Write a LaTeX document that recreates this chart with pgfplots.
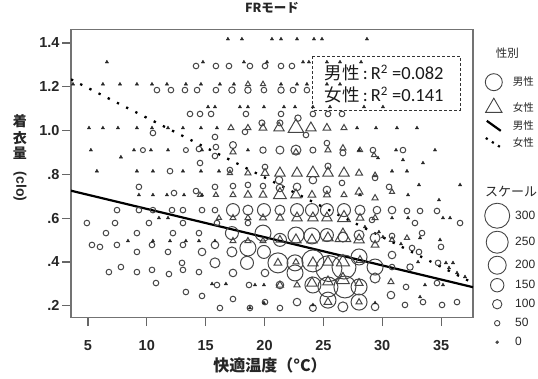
\documentclass[border=0pt]{standalone}
\usepackage{pgfplots}
\usepackage{pgfplotstable}
\pgfplotsset{compat=1.18}
\usepackage{fontspec}
\setmainfont{Liberation Sans}
\newfontfamily\jp{Noto Sans CJK JP}
\newfontfamily\carlito{Carlito}
\definecolor{mk}{gray}{0.27}

\pgfplotstableread{
x y r
14.18 1.295 2.8
15.87 1.295 2.8
16.98 1.295 2.8
18.76 1.295 2.8
20.04 1.295 2.8
21.40 1.295 2.8
22.33 1.295 2.8
10.86 1.185 2.8
12.05 1.185 2.8
13.24 1.185 2.8
14.27 1.185 2.8
15.87 1.185 2.8
17.23 1.185 3.2
18.59 1.185 3.2
19.95 1.185 2.8
21.40 1.185 3.2
22.42 1.185 2.8
23.60 1.185 2.8
13.67 1.076 2.8
14.52 1.076 2.8
15.46 1.076 2.8
18.42 1.076 2.8
21.40 1.076 2.8
24.11 1.076 2.8
25.39 1.076 2.8
26.58 1.076 2.8
22.84 1.057 3.2
10.52 0.989 2.8
15.79 0.971 2.8
18.34 0.994 2.8
19.78 1.035 3.0
21.31 1.035 3.0
23.52 0.980 2.8
9.67 0.911 2.5
13.32 0.911 2.5
14.43 0.916 2.8
15.87 0.925 2.8
17.32 0.934 3.5
19.87 0.911 3.2
21.31 0.911 4.0
22.67 0.911 5.0
24.11 0.911 3.0
26.66 0.898 3.0
29.21 0.911 2.8
31.76 0.911 2.8
15.79 0.884 2.8
14.52 0.852 2.8
25.30 0.943 2.8
11.97 0.815 2.8
17.06 0.820 2.8
21.23 0.774 3.8
24.11 0.774 3.8
25.39 0.838 3.0
20.04 0.834 2.8
29.39 0.784 2.8
9.33 0.743 2.8
12.31 0.715 2.8
14.18 0.724 2.8
15.79 0.743 2.8
17.32 0.747 2.8
18.59 0.752 2.8
19.87 0.747 2.8
21.31 0.738 3.8
22.76 0.743 3.8
25.30 0.729 3.8
26.58 0.761 2.8
30.58 0.743 2.8
7.47 0.637 2.8
9.33 0.637 2.8
10.52 0.637 2.8
12.14 0.637 2.8
13.07 0.637 2.8
14.69 0.637 2.8
15.79 0.637 2.8
17.32 0.637 6.5
18.59 0.637 5.0
19.95 0.637 6.5
21.31 0.637 5.0
22.76 0.637 6.5
24.03 0.637 6.5
25.30 0.637 6.5
26.75 0.637 6.5
28.11 0.637 5.0
29.55 0.637 3.8
30.83 0.637 3.8
32.10 0.633 2.8
33.21 0.633 2.8
34.65 0.633 2.8
36.61 0.578 2.8
32.78 0.578 2.8
29.13 0.592 2.8
4.91 0.578 2.8
7.30 0.578 2.8
10.18 0.578 2.8
13.07 0.578 2.8
15.96 0.578 2.8
18.59 0.578 2.8
6.53 0.532 2.8
9.16 0.532 2.8
12.22 0.532 2.8
14.43 0.532 2.8
17.23 0.532 6.5
19.87 0.532 8.0
21.31 0.501 6.5
22.67 0.523 8.0
24.03 0.519 8.0
25.30 0.523 6.5
26.66 0.514 5.0
28.03 0.523 5.0
29.39 0.510 5.0
30.83 0.519 2.8
33.38 0.532 2.8
34.99 0.469 2.8
32.53 0.464 2.8
5.34 0.478 2.8
6.02 0.469 2.8
7.46 0.478 2.8
10.44 0.478 2.8
13.07 0.478 2.8
15.79 0.478 3.8
18.59 0.464 8.0
9.16 0.446 2.8
11.80 0.446 2.8
14.69 0.446 3.8
17.23 0.446 5.0
19.95 0.446 6.5
30.83 0.432 3.8
33.12 0.446 2.8
12.99 0.396 2.8
15.79 0.396 5.0
18.51 0.396 6.5
21.14 0.396 10.0
22.59 0.396 8.0
24.11 0.405 11.0
25.47 0.370 13.0
26.75 0.377 12.0
28.03 0.423 8.0
29.39 0.377 8.0
30.83 0.377 2.8
32.36 0.377 3.2
34.74 0.396 2.8
6.78 0.354 2.8
7.80 0.377 2.8
9.16 0.354 2.8
10.44 0.364 2.8
11.88 0.345 2.8
13.07 0.364 2.8
14.43 0.354 2.8
17.32 0.350 3.8
20.04 0.350 3.8
22.59 0.350 8.0
10.78 0.304 2.8
15.96 0.295 2.8
18.68 0.295 2.8
21.31 0.295 3.8
24.11 0.295 8.0
25.39 0.286 10.0
26.83 0.286 11.0
28.03 0.286 8.0
29.39 0.327 5.0
32.02 0.286 2.8
34.65 0.304 2.8
13.32 0.263 2.8
14.69 0.245 2.8
17.32 0.231 2.8
20.04 0.217 2.8
22.76 0.217 3.8
25.39 0.226 8.0
26.66 0.195 5.0
28.03 0.217 8.0
29.39 0.195 3.8
30.74 0.249 3.8
31.93 0.204 2.8
33.46 0.217 2.8
35.08 0.204 2.8
36.35 0.217 2.8
16.21 0.190 2.8
18.76 0.190 2.8
21.31 0.190 2.8
24.11 0.190 3.5
}\male

\pgfplotstableread{
x y r
18.59 1.212 3.0
19.87 1.212 3.0
17.15 1.012 3.5
18.59 1.012 3.5
19.87 1.012 4.5
21.23 1.012 6.0
22.67 1.012 9.0
23.94 1.012 6.0
25.30 1.012 4.5
26.75 1.012 3.5
17.32 0.902 3.5
22.67 0.902 3.5
25.39 0.911 3.5
26.66 0.920 3.5
28.11 0.911 3.0
29.30 0.888 3.0
17.06 0.806 3.0
18.59 0.806 3.5
20.04 0.806 4.5
21.31 0.806 6.0
22.76 0.806 6.0
24.11 0.806 7.0
25.39 0.806 6.0
26.75 0.806 6.0
28.03 0.806 4.0
29.39 0.797 3.0
14.52 0.706 3.0
15.87 0.706 3.0
17.32 0.706 3.5
18.59 0.706 4.5
19.87 0.706 4.5
21.31 0.706 7.5
22.67 0.706 6.0
24.03 0.706 4.5
25.30 0.706 4.0
26.75 0.706 3.5
28.03 0.720 4.5
29.39 0.692 3.5
30.83 0.720 3.0
16.13 0.601 3.0
17.32 0.601 3.5
18.59 0.601 3.5
19.87 0.601 4.0
21.31 0.601 4.5
22.76 0.601 6.0
24.11 0.601 6.0
25.30 0.601 6.0
26.75 0.601 7.5
28.11 0.601 4.5
29.39 0.601 3.5
17.32 0.496 3.5
18.59 0.496 3.5
19.87 0.496 3.5
21.31 0.501 4.5
22.67 0.501 6.0
24.03 0.501 6.0
25.39 0.510 6.0
26.66 0.514 9.0
28.03 0.501 6.0
29.39 0.478 4.5
30.83 0.501 3.0
32.10 0.510 3.0
21.14 0.396 4.5
22.67 0.400 3.5
24.11 0.396 6.0
25.39 0.400 6.0
26.66 0.400 7.5
28.11 0.409 4.5
21.31 0.295 4.0
22.76 0.295 3.5
24.03 0.304 6.0
25.39 0.309 6.0
26.66 0.318 7.5
28.03 0.304 4.5
30.74 0.309 3.5
25.39 0.217 4.5
28.03 0.217 3.5
}\female

\pgfplotstableread{
x y
16.89 1.418
18.08 1.418
20.63 1.418
21.40 1.418
22.76 1.418
24.20 1.418
24.88 1.418
28.70 1.418
6.61 1.313
14.77 1.313
18.25 1.313
20.21 1.313
23.27 1.313
23.77 1.313
25.30 1.313
26.41 1.313
28.20 1.313
3.73 1.212
6.27 1.212
7.72 1.212
9.16 1.212
10.44 1.212
11.71 1.212
13.32 1.212
14.60 1.212
16.21 1.212
17.40 1.212
21.40 1.212
22.76 1.212
23.60 1.212
25.30 1.212
26.41 1.212
15.20 1.108
15.79 1.108
17.91 1.108
18.59 1.108
19.95 1.108
21.65 1.108
22.59 1.108
24.11 1.108
25.56 1.108
28.45 1.108
30.06 1.108
5.09 1.012
6.27 1.012
7.55 1.012
9.16 1.012
10.44 1.012
11.80 1.012
13.07 1.012
14.60 1.012
15.96 1.012
27.86 1.012
29.47 1.012
31.25 1.012
32.95 1.012
5.25 0.911
8.91 0.911
10.35 0.911
11.80 0.911
14.69 0.911
18.59 0.911
28.03 0.911
31.17 0.911
34.48 0.911
29.64 0.875
31.76 0.866
33.46 0.852
7.80 0.879
5.76 0.815
9.16 0.815
10.52 0.815
13.07 0.815
14.60 0.815
16.13 0.815
30.83 0.815
32.10 0.815
33.12 0.752
9.33 0.706
10.52 0.706
11.71 0.706
13.16 0.706
14.69 0.706
28.11 0.706
32.19 0.706
34.82 0.683
36.61 0.752
11.03 0.601
11.80 0.601
30.83 0.601
32.19 0.601
35.16 0.601
35.76 0.601
30.06 0.514
29.72 0.537
28.53 0.560
31.59 0.482
33.21 0.510
34.91 0.501
8.40 0.496
10.52 0.496
11.97 0.496
13.32 0.496
14.43 0.496
15.79 0.496
33.04 0.400
35.41 0.396
36.01 0.396
35.67 0.373
36.35 0.350
37.03 0.332
15.54 0.300
16.72 0.300
19.19 0.295
19.95 0.295
33.63 0.295
35.16 0.295
33.21 0.240
18.76 0.190
19.95 0.213
24.11 0.204
29.39 0.213
}\tinydata

\begin{document}
\begin{tikzpicture}
\path[use as bounding box] (0,0) rectangle (538pt,378pt);
\begin{axis}[
  at={(71pt,60.5pt)}, anchor=south west,
  scale only axis, width=402pt, height=288.2pt,
  xmin=3.56, xmax=37.71, ymin=0.1466, ymax=1.4626,
  xtick={5,10,15,20,25,30,35}, xticklabels={5,10,15,20,25,30,35},
  ytick={0.2,0.4,0.6,0.8,1.0,1.2,1.4}, yticklabels={.2,.4,.6,.8,1.0,1.2,1.4},
  xtick pos=bottom, ytick pos=left,
  tick align=outside, major tick length=8.5pt,
  axis line style={black!55, line width=1.2pt},
  major tick style={black!60, line width=1.2pt},
  tick label style={font=\fontsize{14.5}{16}\selectfont\bfseries, text=black!85},
  xticklabel style={yshift=-11pt},
  yticklabel style={xshift=0.5pt},
  title={\jp\bfseries FRモード},
  title style={at={(axis description cs:0.5,1.053)}, anchor=center, font=\fontsize{12.5}{14}\selectfont, text=black!85},
  xlabel={\jp\bfseries 快適温度（°C）},
  xlabel style={at={(axis description cs:0.495,-0.166)}, anchor=center, font=\fontsize{16}{18}\selectfont, text=black!85},
  ylabel={\begin{tabular}{@{}c@{}}{\jp\bfseries 着}\\{\jp\bfseries 衣}\\{\jp\bfseries 量}\\[-1pt]\rotatebox{-90}{(clo)}\end{tabular}},
  ylabel style={rotate=-90, at={(axis description cs:-0.127,0.553)}, anchor=center, font=\fontsize{14}{14}\selectfont\bfseries, text=black!85},
  legend style={at={(axis description cs:1.0286,0.9629)}, anchor=north west, draw=none, fill=none, inner sep=0pt, row sep=2pt, column sep=8pt, font=\jp\fontsize{10.5}{12}\selectfont, text=black!85},
  legend cell align=left,
]
\addlegendimage{empty legend}\addlegendentry[minimum height=26pt]{\hspace{-17pt}\fontsize{11.5}{13}\selectfont 性別}
\addlegendimage{only marks, mark=o, mark size=8.5pt, draw=mk, line width=0.9pt}\addlegendentry[minimum height=28pt]{男性}
\addlegendimage{only marks, mark=triangle, mark size=9.5pt, draw=mk, line width=0.9pt}\addlegendentry[minimum height=18pt]{女性}
\addlegendimage{legend image code/.code={\draw[black, line width=2.2pt] (0.3cm-7pt,5pt) -- (0.3cm+7pt,-5pt);}}\addlegendentry[minimum height=14pt]{男性}
\addlegendimage{legend image code/.code={\draw[black, line width=2.2pt, dash pattern=on 2.2pt off 5pt] (0.3cm-8pt,5pt) -- (0.3cm+8pt,-5pt);}}\addlegendentry[minimum height=16pt]{女性}

\addplot[forget plot, scatter, only marks, mark=o, line width=1pt,
  scatter/use mapped color={draw=mk},
  visualization depends on={\thisrow{r} \as \rad},
  scatter/@pre marker code/.append style={/tikz/mark size=\rad}]
  table[x=x, y=y] {\male};
\addplot[forget plot, scatter, only marks, mark=triangle, line width=1pt,
  scatter/use mapped color={draw=mk},
  visualization depends on={\thisrow{r} \as \rad},
  scatter/@pre marker code/.append style={/tikz/mark size=\rad}]
  table[x=x, y=y] {\female};
\addplot[forget plot, only marks, mark=triangle*, mark size=1.9pt, draw=black!85, fill=black!85]
  table[x=x, y=y] {\tinydata};

\addplot[forget plot, black, line width=2.2pt] coordinates {(3.56,0.7256) (37.71,0.285)};
\addplot[forget plot, black, line width=2.3pt, dash pattern=on 2.3pt off 8pt] coordinates {(3.56,1.234) (37.5,0.31)};

\draw[black!80, line width=0.9pt, dash pattern=on 3pt off 2pt] (axis cs:24.11,1.340) rectangle (axis cs:36.61,1.094);
\node[anchor=west, inner sep=0pt, text=black!90] at (axis cs:25.1,1.263) {{\jp\fontsize{17.5}{19}\selectfont 男性}{\carlito\fontsize{18.5}{20}\selectfont\,:\,R\textsuperscript{2} =0.082}};
\node[anchor=west, inner sep=0pt, text=black!90] at (axis cs:25.1,1.1626) {{\jp\fontsize{17.5}{19}\selectfont 女性}{\carlito\fontsize{18.5}{20}\selectfont\,:\,R\textsuperscript{2} =0.141}};
\end{axis}

\begin{axis}[
  at={(71pt,60.5pt)}, anchor=south west,
  scale only axis, width=402pt, height=288.2pt,
  hide axis, xmin=0, xmax=1, ymin=0, ymax=1,
  legend style={at={(axis description cs:1.0286,0.4632)}, anchor=north west, draw=none, fill=none, inner sep=0pt, row sep=3pt, column sep=3.5pt, font=\fontsize{12}{14}\selectfont, text=black!85, nodes={minimum height=16pt}},
  legend cell align=left,
]
\addlegendimage{empty legend}\addlegendentry{\hspace{-30pt}\jp\fontsize{13}{15}\selectfont スケール}
\addlegendimage{only marks, mark=o, mark size=12.5pt, draw=mk, line width=0.9pt}\addlegendentry{300}
\addlegendimage{only marks, mark=o, mark size=11pt, draw=mk, line width=0.9pt}\addlegendentry{250}
\addlegendimage{only marks, mark=o, mark size=9pt, draw=mk, line width=0.9pt}\addlegendentry{200}
\addlegendimage{only marks, mark=o, mark size=6.7pt, draw=mk, line width=0.9pt}\addlegendentry{150}
\addlegendimage{only marks, mark=o, mark size=4.7pt, draw=mk, line width=0.9pt}\addlegendentry{100}
\addlegendimage{only marks, mark=o, mark size=2.7pt, draw=mk, line width=0.9pt}\addlegendentry{50}
\addlegendimage{only marks, mark=*, mark size=1.5pt, draw=mk, fill=mk}\addlegendentry{0}
\end{axis}
\end{tikzpicture}
\end{document}
